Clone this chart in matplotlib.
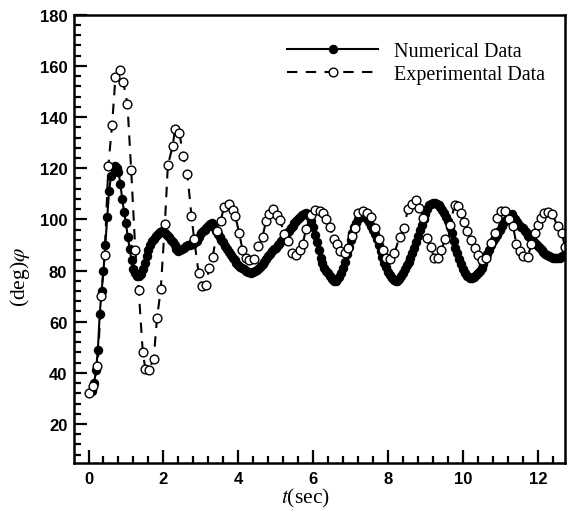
import matplotlib
matplotlib.use("Agg")
import matplotlib.pyplot as plt
from matplotlib.ticker import MultipleLocator

# numerical solution (filled markers), every 0.05 s
num_t = [0.10, 0.15, 0.20, 0.25, 0.30, 0.35, 0.40, 0.45, 0.50, 0.55,
         0.60, 0.65, 0.70, 0.75, 0.80, 0.85, 0.90, 0.95, 1.00, 1.05,
         1.10, 1.15, 1.20, 1.25, 1.30, 1.35, 1.40, 1.45, 1.50, 1.55,
         1.60, 1.65, 1.70, 1.75, 1.80, 1.85, 1.90, 1.95, 2.00, 2.05,
         2.10, 2.15, 2.20, 2.25, 2.30, 2.35, 2.40, 2.45, 2.50, 2.55,
         2.60, 2.65, 2.70, 2.75, 2.80, 2.85, 2.90, 2.95, 3.00, 3.05,
         3.10, 3.15, 3.20, 3.25, 3.30, 3.35, 3.40, 3.45, 3.50, 3.55,
         3.60, 3.65, 3.70, 3.75, 3.80, 3.85, 3.90, 3.95, 4.00, 4.05,
         4.10, 4.15, 4.20, 4.25, 4.30, 4.35, 4.40, 4.45, 4.50, 4.55,
         4.60, 4.65, 4.70, 4.75, 4.80, 4.85, 4.90, 4.95, 5.00, 5.05,
         5.10, 5.15, 5.20, 5.25, 5.30, 5.35, 5.40, 5.45, 5.50, 5.55,
         5.60, 5.65, 5.70, 5.75, 5.80, 5.85, 5.90, 5.95, 6.00, 6.05,
         6.10, 6.15, 6.20, 6.25, 6.30, 6.35, 6.40, 6.45, 6.50, 6.55,
         6.60, 6.65, 6.70, 6.75, 6.80, 6.85, 6.90, 6.95, 7.00, 7.05,
         7.10, 7.15, 7.20, 7.25, 7.30, 7.35, 7.40, 7.45, 7.50, 7.55,
         7.60, 7.65, 7.70, 7.75, 7.80, 7.85, 7.90, 7.95, 8.00, 8.05,
         8.10, 8.15, 8.20, 8.25, 8.30, 8.35, 8.40, 8.45, 8.50, 8.55,
         8.60, 8.65, 8.70, 8.75, 8.80, 8.85, 8.90, 8.95, 9.00, 9.05,
         9.10, 9.15, 9.20, 9.25, 9.30, 9.35, 9.40, 9.45, 9.50, 9.55,
         9.60, 9.65, 9.70, 9.75, 9.80, 9.85, 9.90, 9.95, 10.00, 10.05,
         10.10, 10.15, 10.20, 10.25, 10.30, 10.35, 10.40, 10.45, 10.50, 10.55,
         10.60, 10.65, 10.70, 10.75, 10.80, 10.85, 10.90, 10.95, 11.00, 11.05,
         11.10, 11.15, 11.20, 11.25, 11.30, 11.35, 11.40, 11.45, 11.50, 11.55,
         11.60, 11.65, 11.70, 11.75, 11.80, 11.85, 11.90, 11.95, 12.00, 12.05,
         12.10, 12.15, 12.20, 12.25, 12.30, 12.35, 12.40, 12.45, 12.50, 12.55,
         12.60, 12.65, 12.70, 12.75, 12.80]
num_phi = [33, 36, 41, 49, 63, 72, 80, 90, 101, 111,
           117, 120.5, 121, 120, 118.5, 114, 108, 103, 98.5, 93,
           88.5, 84, 80.5, 79, 78, 77.8, 78.5, 80.5, 83, 85.5,
           88, 90, 91.5, 92.5, 93.5, 94.3, 95, 95.3, 95, 94.6,
           94, 93, 92, 91, 90, 88.5, 87.5, 88, 88.5, 89,
           89.5, 89.8, 90, 90.2, 90.5, 91, 91.5, 93, 94.5, 95.3,
           96, 96.8, 97.5, 98.3, 98.5, 97, 95.5, 94.2, 93, 92,
           91, 89.7, 88.5, 87.2, 86, 85, 84, 83, 82, 81.5,
           81, 80.5, 80, 79.6, 79.3, 79.2, 79.3, 79.7, 80.3, 81,
           81.7, 82.6, 83.5, 84.5, 85.6, 86.5, 87.5, 88.3, 89, 89.8,
           90.5, 91.5, 92.5, 93.5, 94.5, 95.5, 96.5, 97.5, 98.5, 99.3,
           100, 101, 101.8, 102.3, 102.5, 102.2, 101.5, 99.5, 97, 94,
           91, 88, 85, 83, 81, 80, 79, 77.7, 76.5, 76,
           75.8, 76.5, 77.5, 79, 81, 83.5, 86.5, 89.3, 92, 94.5,
           97, 98.7, 100, 100.8, 101.3, 101.2, 100.8, 100, 99, 97.6,
           96, 94.3, 92.5, 90, 87.5, 85.2, 83, 81.2, 79.5, 78.2,
           77, 76.3, 75.8, 76, 76.5, 77.7, 79, 80.5, 82, 83.5,
           85, 87, 89, 91.2, 93.5, 95.8, 98, 100, 102, 104,
           105.5, 106.2, 106.5, 106.4, 106, 105.5, 105, 103.8, 102.5, 101,
           99.5, 97, 94.5, 91.7, 89, 86.7, 84.5, 82.5, 80.5, 79.2,
           78, 77.4, 77, 77.2, 77.5, 78.2, 79, 80, 81, 82.7,
           84.5, 86.3, 88, 89.8, 91.5, 92.8, 94, 95, 96, 97.5,
           99, 99.8, 100.5, 101.3, 102, 101, 100, 99, 98, 97.2,
           96.5, 95.5, 94.5, 93.7, 93, 92, 91, 90.2, 89.5, 88.7,
           88, 87.2, 86.5, 86, 85.5, 85.2, 85, 85, 85, 85,
           85, 85.5, 86, 86.5, 87]

# experimental measurements (open markers)
exp_t = [0.02, 0.13, 0.24, 0.34, 0.43, 0.53, 0.63, 0.72, 0.83, 0.93,
         1.04, 1.14, 1.25, 1.34, 1.45, 1.52, 1.61, 1.74, 1.83, 1.93,
         2.04, 2.12, 2.25, 2.31, 2.43, 2.53, 2.64, 2.75, 2.82, 2.94,
         3.02, 3.14, 3.22, 3.32, 3.43, 3.53, 3.62, 3.75, 3.85, 3.92,
         4.03, 4.11, 4.2, 4.3, 4.43, 4.54, 4.65, 4.74, 4.83, 4.92,
         5.03, 5.12, 5.23, 5.34, 5.43, 5.54, 5.64, 5.72, 5.81, 5.94,
         6.05, 6.17, 6.26, 6.35, 6.45, 6.55, 6.64, 6.73, 6.84, 6.93,
         7.03, 7.13, 7.21, 7.33, 7.44, 7.55, 7.64, 7.76, 7.86, 7.95,
         8.05, 8.17, 8.31, 8.43, 8.53, 8.64, 8.74, 8.84, 8.93, 9.05,
         9.14, 9.23, 9.34, 9.42, 9.53, 9.65, 9.78, 9.88, 9.96, 10.03,
         10.12, 10.21, 10.32, 10.41, 10.5, 10.63, 10.74, 10.85, 10.92, 11.01,
         11.12, 11.24, 11.34, 11.43, 11.52, 11.61, 11.73, 11.83, 11.92, 12.01,
         12.09, 12.17, 12.28, 12.39, 12.53, 12.64, 12.73]
exp_phi = [32, 35, 42.5, 70, 86, 121, 137, 155.7, 158.6, 153.7,
           145, 119.3, 88, 72.5, 48, 41.5, 41, 45.4, 61.4, 72.7,
           98.3, 121.2, 128.8, 135.3, 133.7, 124.6, 117.9, 101.3, 92.5, 79.1,
           74.1, 74.5, 80.8, 85.3, 95.5, 99.3, 105, 106, 103.8, 101.2,
           94.5, 88.2, 84.8, 84.3, 84.5, 89.5, 93.3, 99.3, 102, 104.2,
           101.6, 99.7, 94.1, 91.5, 86.9, 85.9, 88.2, 90.2, 96.3, 101.6,
           103.5, 103.3, 102.6, 100, 97, 92.4, 90.2, 87.6, 86.7, 88.9,
           93.7, 96.7, 102.4, 103.3, 102.6, 100.9, 96.7, 92.4, 88.2, 84.8,
           84.4, 86.8, 93.1, 96.7, 104.2, 105.9, 107.5, 104.6, 100.7, 92.8,
           89.1, 85, 85, 88.2, 92.2, 98, 105.5, 105.2, 102.6, 98.9,
           95.4, 91.9, 88.9, 85.9, 84.3, 85, 90.9, 94.8, 100.5, 103.4,
           103.3, 100.3, 97.3, 90.2, 87.8, 85.8, 85.4, 90.2, 94.5, 98,
           100.5, 102.6, 103, 102, 97.3, 94.5, 89.3]

plt.rcParams["mathtext.fontset"] = "stix"

fig = plt.figure(figsize=(5.67, 5.10), dpi=100)
ax = fig.add_axes([0.131, 0.090, 0.865, 0.879])

ax.plot(num_t, num_phi, "-", color="black", lw=1.5, marker="o",
        ms=5.8, mfc="black", mec="black", label="Numerical Data")
ax.plot(exp_t, exp_phi, color="black", lw=1.5, ls=(0, (5, 4)), marker="o",
        ms=6.3, mfc="white", mec="black", mew=1.0, label="Experimental Data")

ax.set_xlim(-0.38, 12.72)
ax.set_ylim(4.7, 180)
ax.xaxis.set_major_locator(MultipleLocator(2))
ax.xaxis.set_minor_locator(MultipleLocator(0.4))
ax.yaxis.set_minor_locator(MultipleLocator(4))
ax.set_yticks([20, 40, 60, 80, 100, 120, 140, 160, 180])

ax.tick_params(which="both", direction="in", top=False, right=False,
               width=1.6, labelsize=12)
ax.tick_params(axis="x", pad=6)
ax.tick_params(axis="y", pad=5)
ax.tick_params(which="major", length=9.5)
ax.tick_params(which="minor", length=5)
for lbl in ax.get_xticklabels() + ax.get_yticklabels():
    lbl.set_fontfamily("Liberation Sans")
    lbl.set_fontweight("bold")
for sp in ax.spines.values():
    sp.set_linewidth(1.8)

ax.set_xlabel("$t$(sec)", fontsize=15.5, family="Liberation Serif")
ax.set_ylabel(r"(deg)$\varphi$", fontsize=15.5, family="Liberation Serif")
ax.xaxis.set_label_coords(0.472, -0.076, transform=ax.transAxes)
ax.yaxis.set_label_coords(-0.11, 0.418, transform=ax.transAxes)
ax.xaxis.label.set_va("center")
ax.yaxis.label.set_va("center")

ax.legend(loc="upper left", bbox_to_anchor=(0.414, 0.962), frameon=False,
          numpoints=1, handlelength=4.5, handletextpad=0.8, labelspacing=0.2,
          borderpad=0, prop={"family": "Liberation Serif", "size": 14.5})

fig.savefig("out.png", dpi=100)
